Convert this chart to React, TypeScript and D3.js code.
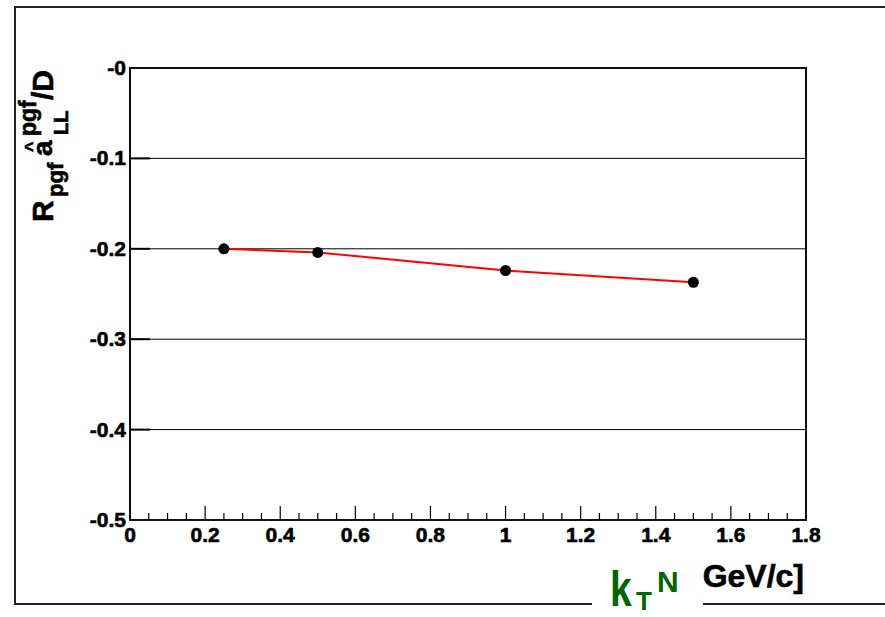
import * as d3 from 'd3';

const kT = [0.25, 0.5, 1, 1.5];
const ratio = [-0.2, -0.204, -0.224, -0.237];

const yTicks = [-0.5, -0.4, -0.3, -0.2, -0.1, 0];
const yTickLabels = ['-0.5', '-0.4', '-0.3', '-0.2', '-0.1', '-0'];
const xTicks = [0, 0.2, 0.4, 0.6, 0.8, 1, 1.2, 1.4, 1.6, 1.8];
const xTickLabels = ['0', '0.2', '0.4', '0.6', '0.8', '1', '1.2', '1.4', '1.6', '1.8'];

const W = 885;
const H = 617;
const left = 130, right = 806, top = 68, bottom = 520;
const font = '"Liberation Sans", Arial, sans-serif';

export default function App() {
  const x = d3.scaleLinear().domain([0, 1.8]).range([left, right]);
  const y = d3.scaleLinear().domain([-0.5, 0]).range([bottom, top]);
  const minor = d3.range(0, 1.8001, 0.05);
  const line = d3.line<number>().x((d, i) => x(kT[i])).y(d => y(d));

  return (
    <svg width={W} height={H} style={{ position: 'absolute', left: 0, top: 0, background: '#fff' }}
      fontFamily={font}>
      {/* outer frame */}
      <path d={`M${W},7 H15 V604 H${W}`} fill="none" stroke="#222" strokeWidth={2} />

      {/* grid */}
      {yTicks.map(t => (
        <line key={'g' + t} x1={left} x2={right} y1={y(t)} y2={y(t)} stroke="#000" strokeWidth={1} />
      ))}
      {yTicks.map(t => (
        <line key={'yt' + t} x1={left} x2={left + 20} y1={y(t)} y2={y(t)} stroke="#000" strokeWidth={2} />
      ))}
      {minor.map((t, i) => (
        <line key={'xt' + i} x1={x(t)} x2={x(t)} y1={bottom}
          y2={bottom - (i % 4 === 0 ? 14 : 7)} stroke="#000" strokeWidth={1.2} />
      ))}
      <rect x={left} y={top} width={right - left} height={bottom - top} fill="none" stroke="#111" strokeWidth={2} />

      {/* tick labels */}
      {yTicks.map((t, i) => (
        <text key={'yl' + t} x={126} y={y(t) + 7} textAnchor="end" fontSize={21} fontWeight="bold"
          stroke="#000" strokeWidth={0.6}>{yTickLabels[i]}</text>
      ))}
      {xTicks.map((t, i) => (
        <text key={'xl' + t} x={x(t)} y={542} textAnchor="middle" fontSize={21} fontWeight="bold"
          stroke="#000" strokeWidth={0.6}>{xTickLabels[i]}</text>
      ))}

      {/* data */}
      <path d={line(ratio) || ''} fill="none" stroke="#ff0000" strokeWidth={2} />
      {ratio.map((v, i) => (
        <circle key={'p' + i} cx={x(kT[i])} cy={y(v)} r={5.5} fill="#000" />
      ))}

      {/* y title */}
      <g transform="translate(53,222) rotate(-90)" fontWeight="bold" stroke="#000" strokeWidth={0.6}>
        <text x={0} y={0} fontSize={30}>R</text>
        <text x={25} y={10} fontSize={22}>pgf</text>
        <text x={66} y={-1} fontSize={28}>a</text>
        <text x={70} y={-15} fontSize={18}>^</text>
        <text x={87} y={15} fontSize={20}>LL</text>
        <text x={86} y={-17} fontSize={23}>pgf</text>
        <text x={122} y={0} fontSize={30}>/D</text>
      </g>

      {/* x title */}
      <text x={804} y={587} textAnchor="end" fontSize={32} fontWeight="bold"
        stroke="#000" strokeWidth={0.6}>[GeV/c]</text>
      <rect x={592} y={552} width={111} height={H - 552} fill="#fff" />
      <g fill="#006400" fontWeight="bold">
        <text transform="translate(610,606) scale(0.78,1)" fontSize={50}>k</text>
        <text x={636} y={610} fontSize={26}>T</text>
        <text x={657} y={592} fontSize={30}>N</text>
      </g>
    </svg>
  );
}
